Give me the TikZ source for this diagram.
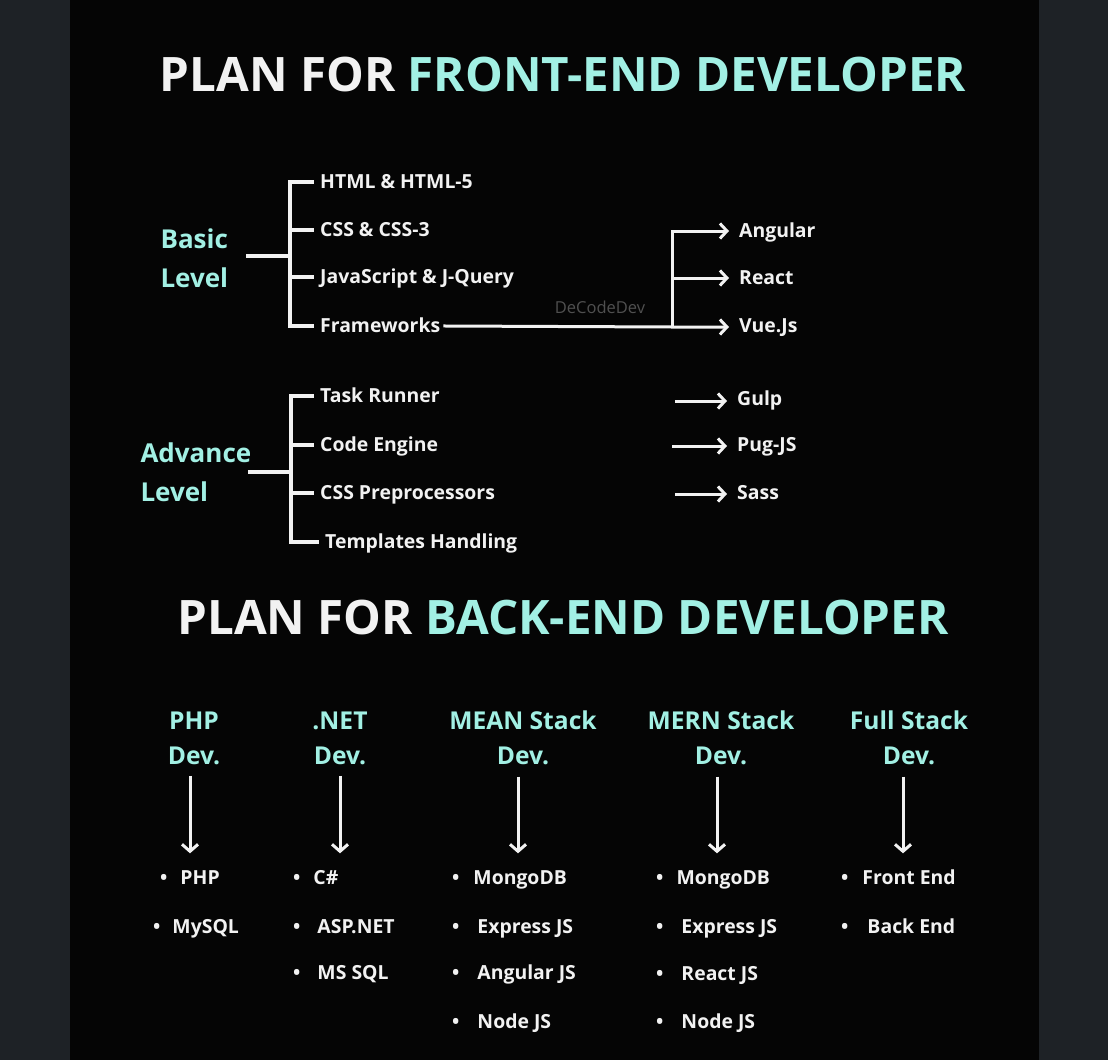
\documentclass[tikz,border=0pt]{standalone}
\usepackage{fontspec}
\setmainfont{Open Sans}
\usetikzlibrary{positioning, arrows.meta, calc}

\definecolor{bgouter}{HTML}{1E2226}
\definecolor{bginner}{HTML}{050505}
\definecolor{mint}{HTML}{A2F0E4}
\definecolor{chalk}{HTML}{F2F2F2}
\definecolor{wmgray}{HTML}{505050}

\tikzset{
  title/.style={text=chalk, font=\fontsize{47.5}{50}\selectfont\bfseries},
  level/.style={text=mint, font=\fontsize{26}{39}\selectfont\bfseries, align=left, anchor=west},
  item/.style={text=chalk, font=\fontsize{19.4}{22}\selectfont\bfseries, anchor=west,
    text height=14pt, text depth=1pt, inner sep=6pt},
  devhead/.style={text=mint, font=\fontsize{24.6}{35}\selectfont\bfseries, align=center},
  link/.style={draw=chalk, line width=3.5pt},
  arr/.style={draw=chalk, line width=3pt, -{Straight Barb[length=7pt,width=15pt]}, shorten >=4pt},
  darr/.style={draw=chalk, line width=3pt, -{Straight Barb[length=7pt,width=16pt]},
    shorten <=8pt, shorten >=11pt},
}

\begin{document}
\begin{tikzpicture}[x=1pt, y=-1pt]
        % Background
        \fill[bgouter] (0,0) rectangle (1108,1060);
        \fill[bginner] (70,0) rectangle (1039,1060);
        \useasboundingbox (0,0) rectangle (1108,1060);

        % Front-end title
        \node[title] (fetitle) at (563,75) {PLAN FOR \textcolor{mint}{FRONT-END DEVELOPER}};

        % Basic level
        \node[level] (basic) at (157,258) {Basic\\Level};
        \coordinate (bstem) at (246,256);
        \coordinate (bfork) at (290,256);
        \node[item] (html) at (314,182) {HTML \& HTML-5};
        \node[item] (css) at (314,230) {CSS \& CSS-3};
        \node[item] (js) at (314,277) {JavaScript \& J-Query};
        \node[item] (fw) at (314,326) {Frameworks};
        \draw[link] (bstem) -- (bfork);
        \foreach \n in {html,css,js,fw}
            \draw[link] (bfork) |- (\n.west);

        % Frameworks branch
        \node[item] (angular) at (733,231) {Angular};
        \node[item] (react) at (733,278) {React};
        \node[item] (vue) at (733,326) {Vue.Js};
        \coordinate (ffork) at (672,327);
        \draw[arr, shorten <=-3pt] (fw.east) -- (ffork) -- (ffork -| vue.west);
        \draw[arr] (ffork) |- (angular.west);
        \draw[arr] (ffork) |- (react.west);
        \node[text=wmgray, font=\fontsize{16.5}{18}\selectfont] (wmark) at (600,307) {DeCodeDev};

        % Advance level
        \node[level] (adv) at (137,472) {Advance\\Level};
        \coordinate (astem) at (248,472);
        \coordinate (afork) at (291,472);
        \node[item] (task) at (314,396) {Task Runner};
        \node[item] (engine) at (314,445) {Code Engine};
        \node[item] (prep) at (314,493) {CSS Preprocessors};
        \node[item] (tmpl) at (319,542) {Templates Handling};
        \draw[link] (astem) -- (afork);
        \foreach \n in {task,engine,prep,tmpl}
            \draw[link] (afork) |- (\n.west);

        % Tools
        \node[item] (gulp) at (731,399) {Gulp};
        \node[item] (pug) at (731,445) {Pug-JS};
        \node[item] (sass) at (731,493) {Sass};
        \coordinate (gulpin) at (675,401);
        \coordinate (pugin) at (672,446);
        \coordinate (sassin) at (675,494);
        \draw[arr] (gulpin) -- (gulpin -| gulp.west);
        \draw[arr] (pugin) -- (pugin -| pug.west);
        \draw[arr] (sassin) -- (sassin -| sass.west);

        % Back-end title
        \node[title] (betitle) at (563,618) {PLAN FOR \textcolor{mint}{BACK-END DEVELOPER}};

        % Developer columns
        \node[devhead] (phpdev) at (194,738) {PHP\\Dev.};
        \node[devhead] (netdev) at (340,738) {.NET\\Dev.};
        \node[devhead] (meandev) at (523,738) {MEAN Stack\\Dev.};
        \node[devhead] (merndev) at (721,738) {MERN Stack\\Dev.};
        \node[devhead] (fulldev) at (909,738) {Full Stack\\Dev.};

        % PHP
        \node[item] (phpa) at (154,878) {\textbullet\hspace{13pt}PHP};
        \node[item] (phpb) at (147,927) {\textbullet\hspace{12pt}MySQL};
        % .NET
        \node[item] (neta) at (287,878) {\textbullet\hspace{13pt}C\#};
        \node[item] (netb) at (287,927) {\textbullet\hspace{17pt}ASP.NET};
        \node[item] (netc) at (287,973) {\textbullet\hspace{17pt}MS SQL};
        % MEAN
        \node[item] (meana) at (446,878) {\textbullet\hspace{14pt}MongoDB};
        \node[item] (meanb) at (446,927) {\textbullet\hspace{18pt}Express JS};
        \node[item] (meanc) at (446,973) {\textbullet\hspace{18pt}Angular JS};
        \node[item] (meand) at (446,1022) {\textbullet\hspace{18pt}Node JS};
        % MERN
        \node[item] (merna) at (650,878) {\textbullet\hspace{13pt}MongoDB};
        \node[item] (mernb) at (650,927) {\textbullet\hspace{18pt}Express JS};
        \node[item] (mernc) at (650,974) {\textbullet\hspace{18pt}React JS};
        \node[item] (mernd) at (650,1022) {\textbullet\hspace{18pt}Node JS};
        % Full stack
        \node[item] (fulla) at (835,878) {\textbullet\hspace{14pt}Front End};
        \node[item] (fullb) at (835,927) {\textbullet\hspace{19pt}Back End};

        % Down arrows
        \draw[darr] ([xshift=-4pt]phpdev.south) -- ([xshift=-4pt]phpdev.south |- phpa.north);
        \draw[darr] (netdev.south) -- (netdev.south |- neta.north);
        \draw[darr] ([xshift=-5pt]meandev.south) -- ([xshift=-5pt]meandev.south |- meana.north);
        \draw[darr] ([xshift=-4pt]merndev.south) -- ([xshift=-4pt]merndev.south |- merna.north);
        \draw[darr] ([xshift=-6pt]fulldev.south) -- ([xshift=-6pt]fulldev.south |- fulla.north);

    \end{tikzpicture}
\end{document}
